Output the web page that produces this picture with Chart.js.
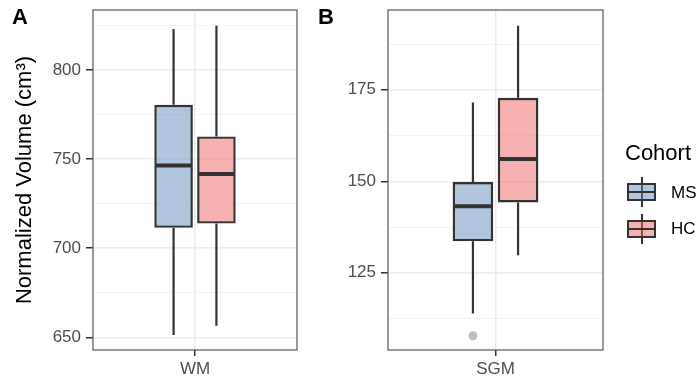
<!DOCTYPE html>
<html><head><meta charset="utf-8">
<script src="https://cdn.jsdelivr.net/npm/chart.js@4"></script>
<style>
body{margin:0;width:697px;height:380px;overflow:hidden;background:#fff;font-family:"Liberation Sans",Arial,sans-serif;position:relative}
canvas{position:absolute;top:0}
#ca{left:0}
#cb{left:310px}
.lab{position:absolute;font-weight:bold;font-size:22px;line-height:22px;color:#000}
.lt{position:absolute;font-size:22px;line-height:22px;color:#000}
.li{position:absolute;font-size:17px;line-height:17px;color:#000}
.wh{position:absolute;width:2px;background:#333}
.kb{position:absolute;box-sizing:border-box;border:2px solid #333}
.km{position:absolute;height:2px;background:#333}
</style>
</head><body>
<canvas id="ca" width="310" height="380"></canvas>
<canvas id="cb" width="387" height="380"></canvas>
<div class="lab" style="left:12px;top:6px">A</div>
<div class="lab" style="left:318px;top:6px">B</div>
<div id="legend"></div>
<script>
// ---- data ----
const groups = ['MS', 'HC'];
const wmCategories = ['WM'];
const wmMin = [651.3, 656.5];
const wmQ1 = [711.4, 713.8];
const wmMedian = [746.4, 741.6];
const wmQ3 = [780.4, 762.7];
const wmMax = [822.9, 824.8];
const wmOutliers = [[], []];
const wmTicks = [650, 700, 750, 800];
const wmMinorTicks = [675, 725, 775, 825];
const wmRange = [642.9, 833.6];

const sgmCategories = ['SGM'];
const sgmMin = [113.9, 129.8];
const sgmQ1 = [133.6, 144.2];
const sgmMedian = [143.2, 156.1];
const sgmQ3 = [149.8, 172.8];
const sgmMax = [171.5, 192.5];
const sgmOutliers = [[107.8], []];
const sgmTicks = [125, 150, 175];
const sgmMinorTicks = [112.5, 137.5, 162.5, 187.5];
const sgmRange = [103.9, 196.8];

const fills = ['rgba(100,140,190,0.5)', 'rgba(242,100,100,0.5)'];
const lineCol = '#333333';

Chart.defaults.font.family = "'Liberation Sans', Arial, sans-serif";

const boxPlugin = {
  id: 'boxparts',
  beforeDatasetsDraw(chart) {
    const ctx = chart.ctx, y = chart.scales.y;
    chart.data.datasets.forEach((ds, i) => {
      const el = chart.getDatasetMeta(i).data[0];
      ctx.save();
      ctx.strokeStyle = lineCol; ctx.lineWidth = 2.2;
      ctx.beginPath();
      ctx.moveTo(el.x, y.getPixelForValue(ds.stats.q3));
      ctx.lineTo(el.x, y.getPixelForValue(ds.stats.max));
      ctx.moveTo(el.x, y.getPixelForValue(ds.stats.q1));
      ctx.lineTo(el.x, y.getPixelForValue(ds.stats.min));
      ctx.stroke();
      ctx.restore();
    });
  },
  afterDatasetsDraw(chart) {
    const ctx = chart.ctx, y = chart.scales.y, a = chart.chartArea;
    chart.data.datasets.forEach((ds, i) => {
      const el = chart.getDatasetMeta(i).data[0];
      ctx.save();
      ctx.strokeStyle = lineCol; ctx.lineWidth = 4;
      const ym = y.getPixelForValue(ds.stats.med);
      ctx.beginPath();
      ctx.moveTo(el.x - el.width / 2 + 1, ym);
      ctx.lineTo(el.x + el.width / 2 - 1, ym);
      ctx.stroke();
      ctx.fillStyle = 'rgba(0,0,0,0.25)';
      ds.stats.out.forEach(v => {
        ctx.beginPath();
        ctx.arc(el.x, y.getPixelForValue(v), 4.5, 0, Math.PI * 2);
        ctx.fill();
      });
      ctx.restore();
    });
    ctx.save();
    ctx.strokeStyle = '#555'; ctx.lineWidth = 1.2;
    ctx.strokeRect(a.left, a.top, a.right - a.left, a.bottom - a.top);
    ctx.restore();
  }
};

function makeChart(id, cats, mins, q1s, meds, q3s, maxs, outs, ticks, minor, range, title, yWidth, padRight) {
  const all = ticks.concat(minor).sort((p, q) => p - q);
  return new Chart(document.getElementById(id), {
    type: 'bar',
    data: {
      labels: cats,
      datasets: groups.map((g, i) => ({
        label: g,
        data: [[q1s[i], q3s[i]]],
        backgroundColor: fills[i],
        borderColor: lineCol,
        borderWidth: 2.4,
        borderSkipped: false,
        categoryPercentage: 0.42,
        barPercentage: 0.9,
        stats: {min: mins[i], q1: q1s[i], med: meds[i], q3: q3s[i], max: maxs[i], out: outs[i]}
      }))
    },
    options: {
      responsive: false, animation: false, devicePixelRatio: 1,
      layout: {padding: {left: 0, right: padRight, top: 10, bottom: 0}},
      plugins: {legend: {display: false}, tooltip: {enabled: false}},
      scales: {
        x: {
          offset: true,
          grid: {offset: false, color: '#EBEBEB', lineWidth: 1.5, tickLength: 6, tickColor: lineCol, tickWidth: 1.5},
          border: {display: false},
          ticks: {color: '#4D4D4D', font: {size: 17}, padding: 3},
          afterFit(s) { s.height = 30; s.paddingLeft = 0; s.paddingRight = 0; }
        },
        y: {
          min: range[0], max: range[1],
          afterBuildTicks(s) { s.ticks = all.map(v => ({value: v})); },
          grid: {
            color: c => ticks.includes(c.tick.value) ? '#EBEBEB' : '#F2F2F2',
            lineWidth: c => ticks.includes(c.tick.value) ? 1.5 : 1,
            tickColor: c => ticks.includes(c.tick.value) ? lineCol : 'rgba(0,0,0,0)',
            tickLength: 7, tickWidth: 1.5
          },
          border: {display: false},
          ticks: {
            autoSkip: false,
            color: '#4D4D4D', font: {size: 17}, padding: 5,
            callback: v => ticks.includes(v) ? String(v) : ''
          },
          title: {display: !!title, text: title, color: '#000', font: {size: 22}, padding: {top: 12, bottom: 0}},
          afterFit(s) { s.width = yWidth; s.paddingTop = 0; s.paddingBottom = 0; }
        }
      }
    },
    plugins: [boxPlugin]
  });
}

makeChart('ca', wmCategories, wmMin, wmQ1, wmMedian, wmQ3, wmMax, wmOutliers, wmTicks, wmMinorTicks, wmRange, 'Normalized Volume (cm³)', 93, 13);
makeChart('cb', sgmCategories, sgmMin, sgmQ1, sgmMedian, sgmQ3, sgmMax, sgmOutliers, sgmTicks, sgmMinorTicks, sgmRange, '', 78, 94);

// ---- legend (HTML) ----
const lg = document.getElementById('legend');
let html = '<div class="lt" style="left:625px;top:142px">Cohort</div>';
const keyCenters = [192, 228.5];
groups.forEach((g, i) => {
  const c = keyCenters[i];
  html += `<div class="wh" style="left:640.5px;top:${c - 15}px;height:30px"></div>`;
  html += `<div class="kb" style="left:627px;top:${c - 9}px;width:29px;height:18px;background:${fills[i]}"></div>`;
  html += `<div class="km" style="left:628px;top:${c - 1}px;width:27px"></div>`;
  html += `<div class="li" style="left:671px;top:${c - 8.5}px">${g}</div>`;
});
lg.innerHTML = html;
</script>
</body></html>
